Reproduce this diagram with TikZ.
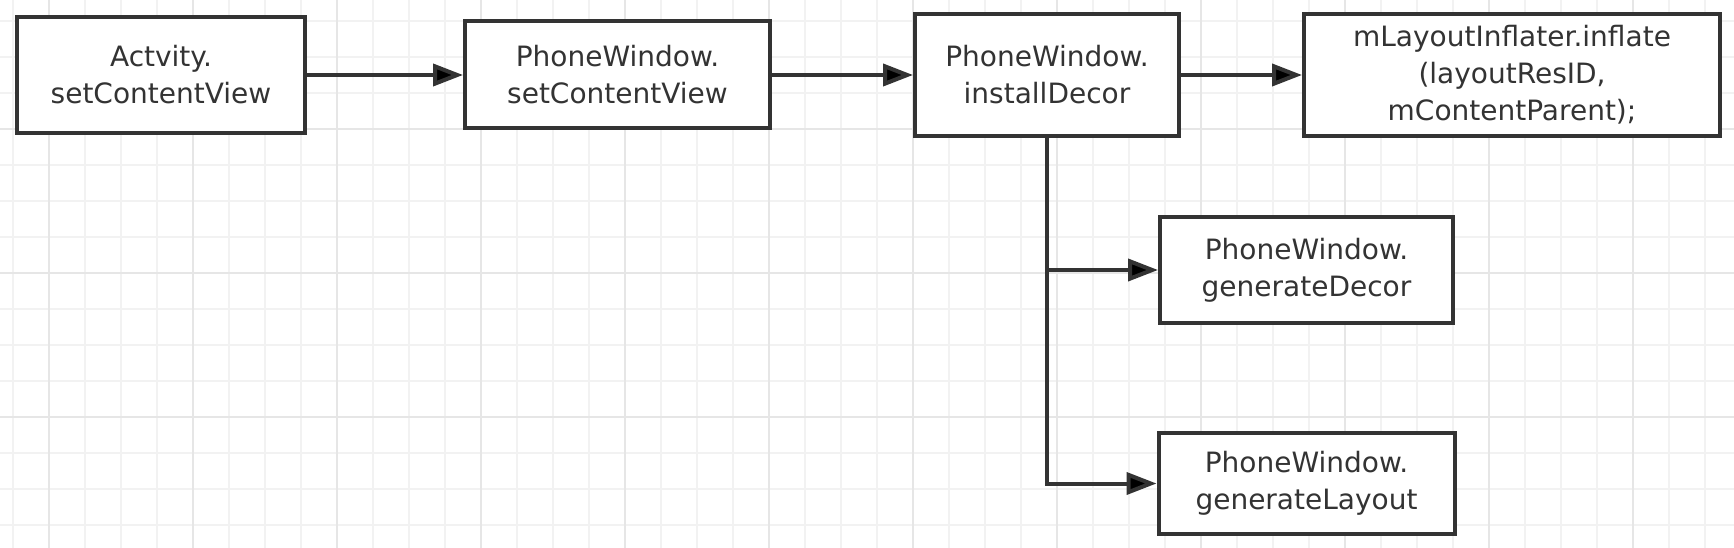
\documentclass[tikz,border=0pt]{standalone}
\usepackage{fontspec}
\setmainfont{DejaVu Sans}
\usetikzlibrary{arrows.meta,positioning}
\definecolor{ink}{HTML}{333333}
\definecolor{gridminor}{HTML}{F2F2F2}
\definecolor{gridmajor}{HTML}{E6E6E6}
\tikzset{
    ->,
>={Triangle[length=30pt, width=22pt]},
on grid,
x=1pt, y=-1pt,
call/.style={draw=ink, line width=4pt, fill=white, text=ink, align=center,
    font=\fontsize{28}{37}\selectfont, inner sep=0pt},
flow/.style={draw=ink, line width=4pt},
minor/.style={-, draw=gridminor, line width=1.3pt},
major/.style={-, draw=gridmajor, line width=1.6pt},}

\begin{document}
\begin{tikzpicture}
        \useasboundingbox (0,0) rectangle (1734,548);
        \fill[white] (0,0) rectangle (1734,548);
        % background grid
        \foreach \x in {13,49,...,1734} \draw[minor] (\x,0) -- (\x,548);
        \foreach \y in {21,57,...,548} \draw[minor] (0,\y) -- (1734,\y);
        \foreach \x in {49,193,...,1734} \draw[major] (\x,0) -- (\x,548);
        \foreach \y in {129,273,417} \draw[major] (0,\y) -- (1734,\y);

        \node[call, minimum width=288pt, minimum height=116pt] (1) at (161,75) {Actvity.\\setContentView};
        \node[call, minimum width=305pt, minimum height=107pt, right=456.5pt of 1] (2) {PhoneWindow.\\setContentView};
        \node[call, minimum width=264pt, minimum height=122pt, right=429.5pt of 2] (3) {PhoneWindow.\\installDecor};
        \node[call, minimum width=416pt, minimum height=122pt, right=465pt of 3] (4) {mLayoutInflater.inflate\\(layoutResID,\\mContentParent);};
        \node[call, minimum width=293pt, minimum height=106pt, below right=195pt and 259.5pt of 3] (5) {PhoneWindow.\\generateDecor};
        \node[call, minimum width=296pt, minimum height=101pt, below=213.5pt of 5] (6) {PhoneWindow.\\generateLayout};
        \draw[flow]
        (1) edge (2)
        (2) edge (3)
        (3) edge (4)
        (3) edge[to path={|- (\tikztotarget)}] (5)
        (3) edge[to path={|- (\tikztotarget)}] (6)
        ;
    \end{tikzpicture}
\end{document}
